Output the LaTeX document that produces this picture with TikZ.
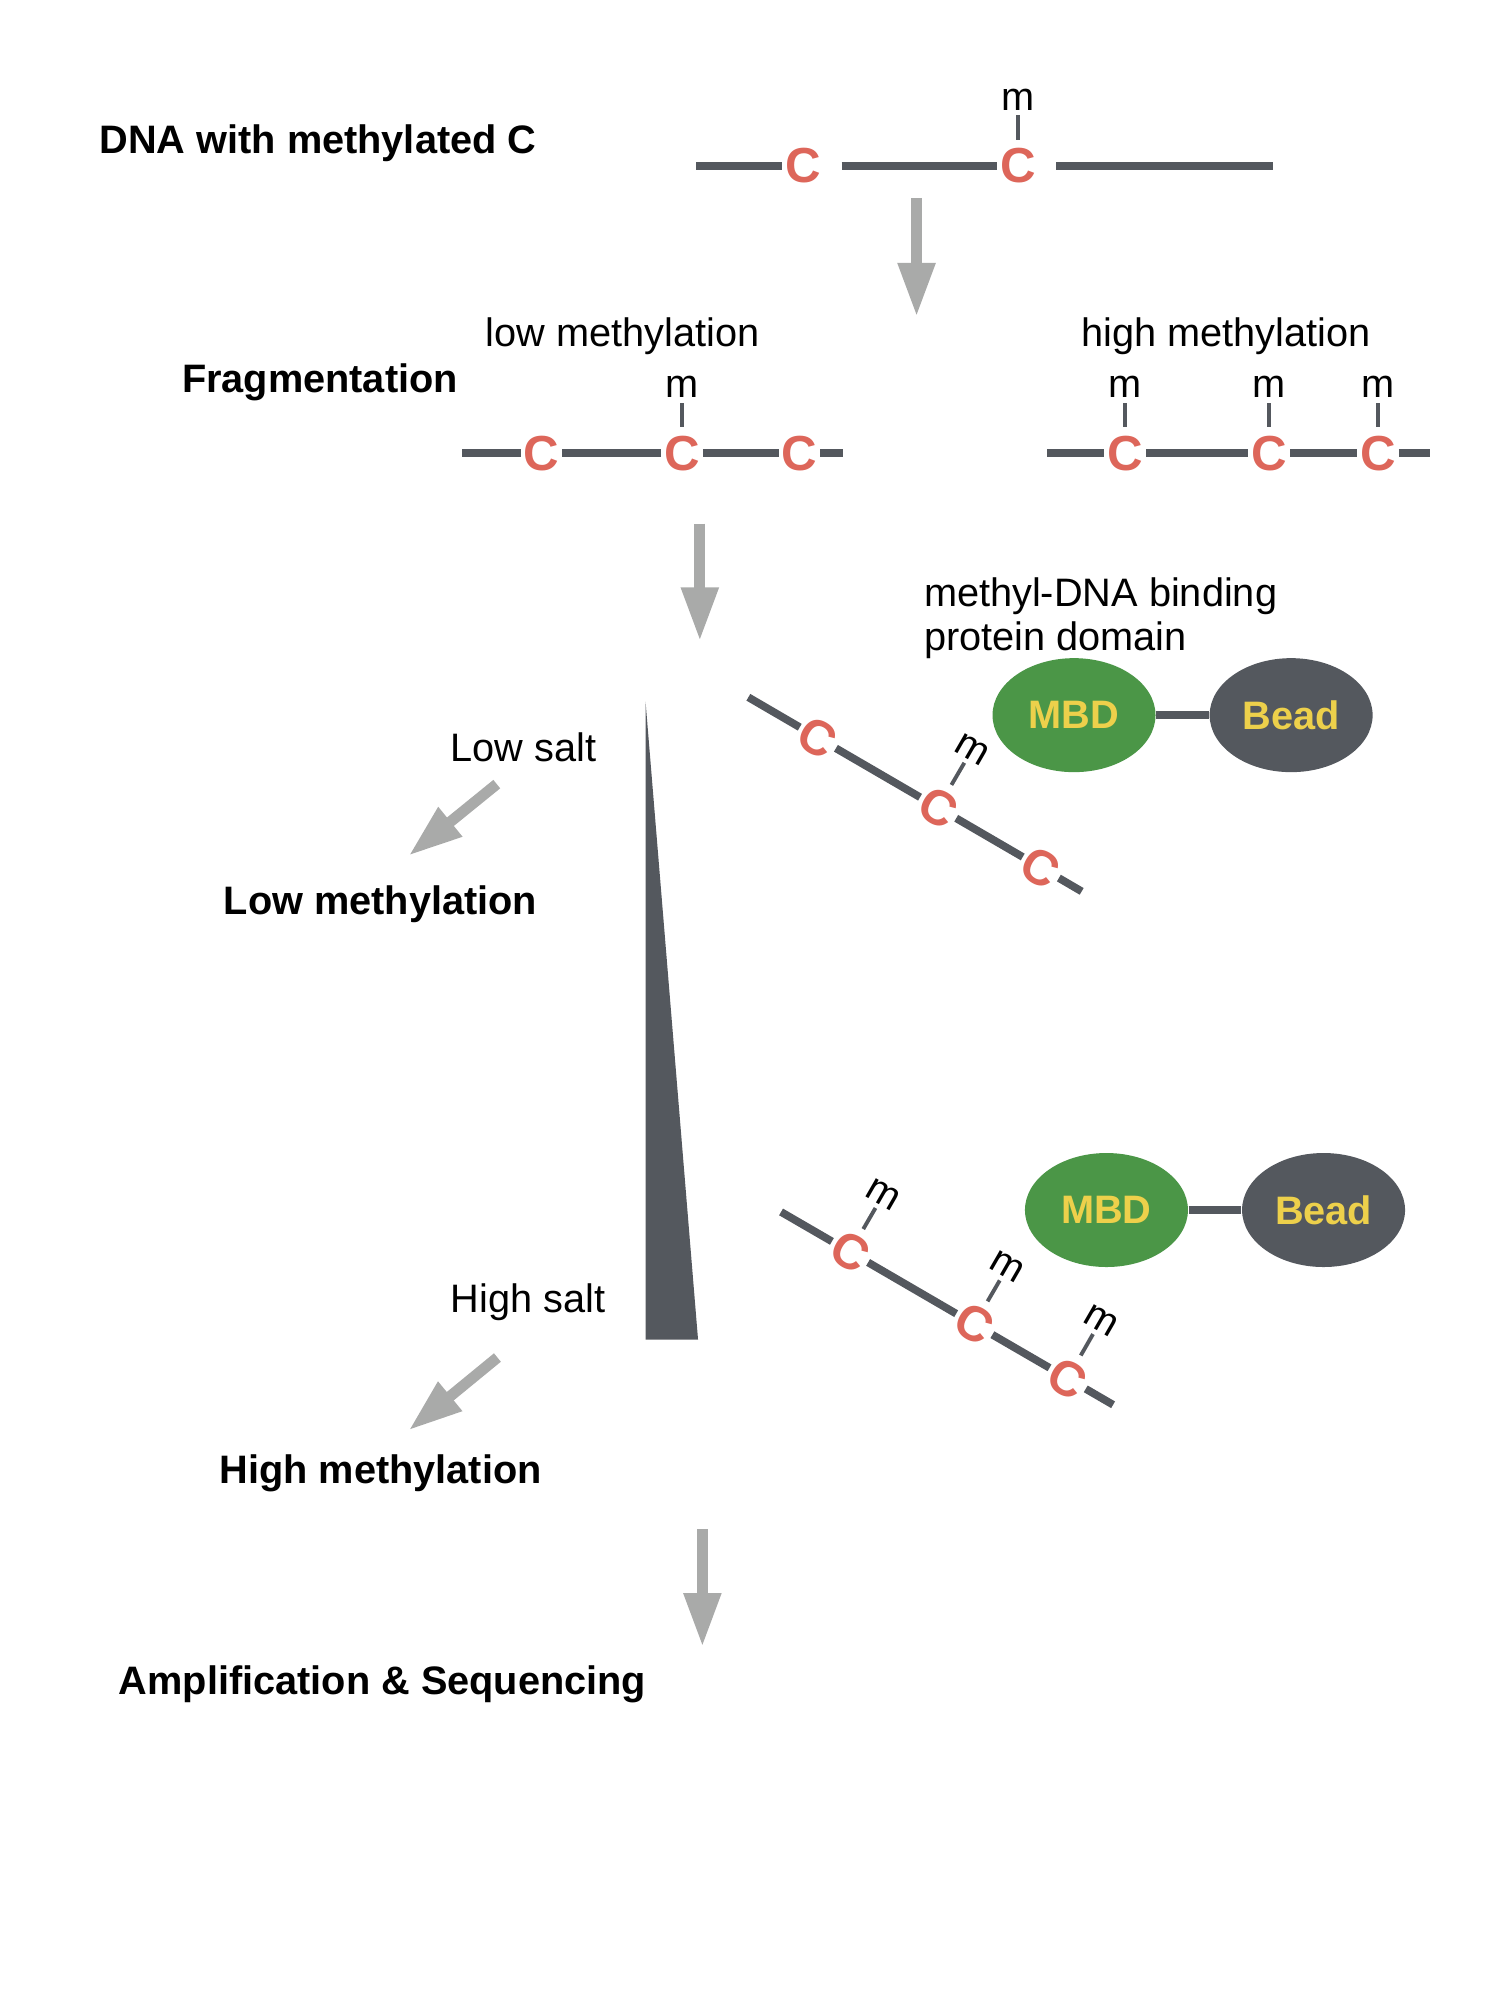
\documentclass[tikz,border=0pt]{standalone}
\usepackage{fontspec}
\setmainfont{Liberation Sans}
\usetikzlibrary{arrows.meta,shapes.geometric}
\definecolor{dnagray}{HTML}{54585E}
\definecolor{cred}{HTML}{DD665A}
\definecolor{mbdgreen}{HTML}{4B9647}
\definecolor{labelyellow}{HTML}{EDD04B}
\definecolor{arrowgray}{HTML}{A9AAA9}
\newcommand\mytxt{\fontsize{11.3}{12.7}\selectfont}
\begin{document}
\begin{tikzpicture}[x=0.01277cm, y=-0.01277cm,
  dna/.style={draw=dnagray, line width=2.2pt},
  bigopen/.style={shorten <=0.175cm},
  tickline/.style={draw=dnagray, line width=1.1pt, shorten <=0.09cm, shorten >=0.05cm},
  cnode/.style={text=cred, font=\fontsize{14}{16}\selectfont\bfseries, inner xsep=0.9pt, inner ysep=0pt, outer sep=0pt},
  mnode/.style={font=\mytxt, inner sep=0pt, outer sep=0pt},
  lbl/.style={font=\mytxt, inner sep=0pt},
  blbl/.style={font=\mytxt\bfseries, inner sep=0pt},
  flow/.style={draw=arrowgray, line width=3.1pt, -{Triangle[length=15.3pt, width=10pt]}},
  ball/.style={ellipse, minimum width=1.63cm, minimum height=1.14cm, inner sep=0pt, text=labelyellow, font=\mytxt\bfseries}
]
\useasboundingbox (0,0) rectangle (1174.6,1566.1);

% ---- top: DNA with methylated C
\node[blbl] (dnalbl) at (249,112) {DNA with methylated C};
\coordinate (t0) at (545,130);
\node[cnode] (t1) at (629,130) {C};
\node[cnode] (t2) at (797,130) {C};
\coordinate (t3) at (997,130);
\node[mnode] (tm) at (797,78) {m};
\draw[dna] (t0) -- (t1);
\draw[dna, bigopen] (t1) -- (t2);
\draw[dna, bigopen] (t2) -- (t3);
\draw[tickline] (t2) -- (tm);

% arrow 1
\coordinate (a1s) at (717.7,155);
\coordinate (a1e) at (717.7,248);
\draw[flow] (a1s) -- (a1e);

% ---- Fragmentation
\node[blbl] (frag) at (250.5,299) {Fragmentation};
\node[lbl] (lowm) at (487.5,263) {low methylation};
\node[lbl] (highm) at (960,263) {high methylation};

\coordinate (l0) at (362,355);
\node[cnode] (l1) at (424,355) {C};
\node[cnode] (l2) at (534,355) {C};
\node[cnode] (l3) at (626,355) {C};
\coordinate (l4) at (660,355);
\node[mnode] (lm) at (534,303) {m};
\draw[dna] (l0) -- (l1);
\draw[dna] (l1) -- (l2);
\draw[dna] (l2) -- (l3);
\draw[dna] (l3) -- (l4);
\draw[tickline] (l2) -- (lm);

\coordinate (h0) at (820,355);
\node[cnode] (h1) at (881,355) {C};
\node[cnode] (h2) at (994,355) {C};
\node[cnode] (h3) at (1079,355) {C};
\coordinate (h4) at (1120,355);
\node[mnode] (hm1) at (881,303) {m};
\node[mnode] (hm2) at (994,303) {m};
\node[mnode] (hm3) at (1079,303) {m};
\draw[dna] (h0) -- (h1);
\draw[dna] (h1) -- (h2);
\draw[dna] (h2) -- (h3);
\draw[dna] (h3) -- (h4);
\draw[tickline] (h1) -- (hm1);
\draw[tickline] (h2) -- (hm2);
\draw[tickline] (h3) -- (hm3);

% arrow 2
\coordinate (a2s) at (548,410);
\coordinate (a2e) at (548,502);
\draw[flow] (a2s) -- (a2e);

% ---- binding domain label
\node[lbl, align=left, anchor=west] (mbdlbl) at (723,484) {methyl-DNA binding\\protein domain};

% ---- MBD / Bead 1
\node[ball, fill=mbdgreen] (mbd1) at (841,560) {MBD};
\node[ball, fill=dnagray] (bead1) at (1011,560) {Bead};
\draw[dna] (mbd1) -- (bead1);

% strand 1 (low methylation)
\coordinate (d0) at (586,546);
\node[cnode, rotate=-30] (d1) at (640.4,577.7) {C};
\node[cnode, rotate=-30] (d2) at (734.6,632.5) {C};
\node[cnode, rotate=-30] (d3) at (815,679.3) {C};
\coordinate (d4) at (847,698);
\node[mnode, rotate=-30] (dm) at (761.3,586.7) {m};
\draw[dna] (d0) -- (d1);
\draw[dna] (d1) -- (d2);
\draw[dna] (d2) -- (d3);
\draw[dna] (d3) -- (d4);
\draw[tickline] (d2) -- (dm);

% ---- salt gradient wedge
\fill[dnagray] (505.5,549.5) -- (505.5,1049) -- (546.6,1049) -- cycle;

\node[lbl] (lowsalt) at (410,585) {Low salt};
\coordinate (b1s) at (389,614);
\coordinate (b1e) at (320,670);
\draw[flow] (b1s) -- (b1e);
\node[blbl] (lowmeth) at (298,708) {Low methylation};

% ---- MBD / Bead 2
\node[ball, fill=mbdgreen] (mbd2) at (866.4,947.5) {MBD};
\node[ball, fill=dnagray] (bead2) at (1036.4,947.5) {Bead};
\draw[dna] (mbd2) -- (bead2);

% strand 2 (high methylation)
\coordinate (e0) at (611.6,949);
\node[cnode, rotate=-30] (e1) at (665.6,980.3) {C};
\node[cnode, rotate=-30] (e2) at (762.9,1036.9) {C};
\node[cnode, rotate=-30] (e3) at (836,1079.3) {C};
\coordinate (e4) at (871.6,1100);
\node[mnode, rotate=-30] (em1) at (691.7,935.3) {m};
\node[mnode, rotate=-30] (em2) at (789,992) {m};
\node[mnode, rotate=-30] (em3) at (862,1034) {m};
\draw[dna] (e0) -- (e1);
\draw[dna] (e1) -- (e2);
\draw[dna] (e2) -- (e3);
\draw[dna] (e3) -- (e4);
\draw[tickline] (e1) -- (em1);
\draw[tickline] (e2) -- (em2);
\draw[tickline] (e3) -- (em3);

\node[lbl] (highsalt) at (413.5,1020) {High salt};
\coordinate (b2s) at (389.5,1063);
\coordinate (b2e) at (320,1120);
\draw[flow] (b2s) -- (b2e);
\node[blbl] (highmeth) at (298,1154) {High methylation};

% arrow 3
\coordinate (a3s) at (550,1197.5);
\coordinate (a3e) at (550,1289.5);
\draw[flow] (a3s) -- (a3e);
\node[blbl] (amp) at (299.5,1318.5) {Amplification \& Sequencing};
\end{tikzpicture}
\end{document}
